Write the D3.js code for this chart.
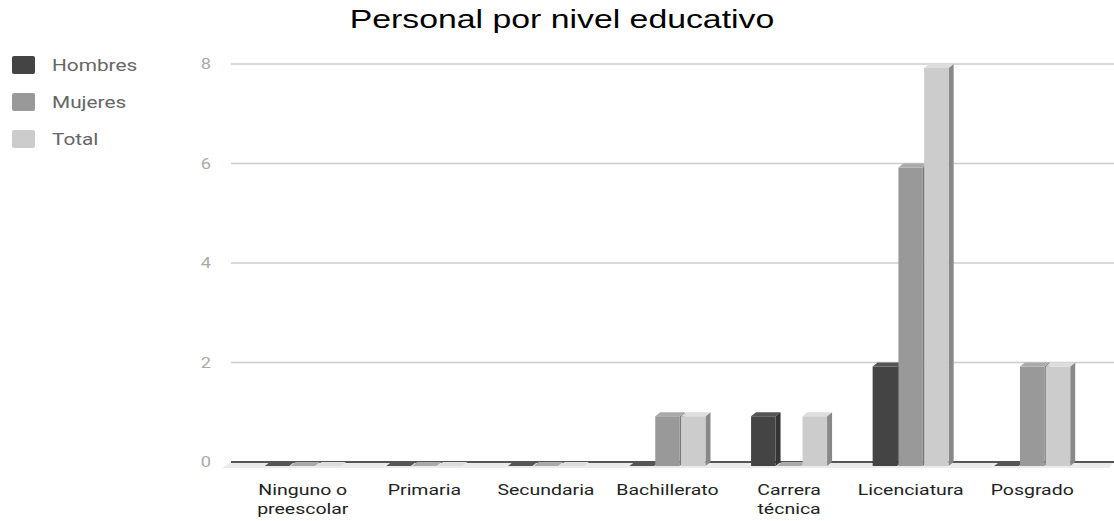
<!DOCTYPE html>
<html lang="es">
<head>
<meta charset="utf-8">
<title>Personal por nivel educativo</title>
<script src="https://d3js.org/d3.v7.min.js"></script>
<style>
  body { margin: 0; background: #fff; }
  svg { display: block; }
</style>
</head>
<body>
<script>
const width = 1114, height = 521;

// data
const categories = [["Ninguno o", "preescolar"], ["Primaria"], ["Secundaria"], ["Bachillerato"],
                    ["Carrera", "técnica"], ["Licenciatura"], ["Posgrado"]];
const seriesNames = ["Hombres", "Mujeres", "Total"];
const hombres = [0, 0, 0, 0, 1, 2, 0];
const mujeres = [0, 0, 0, 1, 0, 6, 2];
const total   = [0, 0, 0, 1, 1, 8, 2];
const yTicks = [0, 2, 4, 6, 8];

const seriesValues = [hombres, mujeres, total];
// front, top, side
const colors = [
  {front: "#444444", top: "#555555", side: "#333333"},
  {front: "#999999", top: "#aaaaaa", side: "#777777"},
  {front: "#cccccc", top: "#dddddd", side: "#888888"}
];

const dx = 5, dy = 4; // depth offset of the back plane
const sx = 1.3;       // the text in the picture is stretched sideways
const catKeys = categories.map(c => c.join(" "));

const x = d3.scaleBand().domain(catKeys).range([242, 1093]);
const xs = d3.scaleBand().domain(seriesNames).range([0, 76]).paddingInner(0.05);
const y = d3.scaleLinear().domain([0, 8]).range([462, 64]); // back plane

const svg = d3.select("body").append("svg")
  .attr("width", width).attr("height", height);

// title
svg.append("text")
  .attr("transform", `translate(562,28) scale(${sx},1)`)
  .attr("text-anchor", "middle")
  .attr("font-family", "Liberation Sans, Arial, sans-serif")
  .attr("font-size", 26)
  .attr("fill", "#000")
  .text("Personal por nivel educativo");

// legend
const legend = svg.append("g").selectAll("g")
  .data(seriesNames).join("g")
  .attr("transform", (d, i) => `translate(12, ${56 + i * 37})`);
legend.append("rect")
  .attr("width", 23).attr("height", 18).attr("rx", 2)
  .attr("fill", (d, i) => colors[i].front);
legend.append("text")
  .attr("transform", `translate(40,15) scale(${sx},1)`)
  .attr("font-family", "Roboto, sans-serif")
  .attr("font-size", 16)
  .attr("fill", "#666")
  .text(d => d);

// floor
const x0 = 231, x1 = 1114;
svg.append("path")
  .attr("d", `M${x0},${y(0)} L${x1},${y(0)} L${x1 - dx},${y(0) + dy + 2} L${x0 - dx - 4},${y(0) + dy + 2} Z`)
  .attr("fill", "#ebebeb");

// gridlines
svg.append("g").selectAll("line")
  .data(yTicks.filter(d => d > 0)).join("line")
  .attr("x1", x0).attr("x2", x1)
  .attr("y1", d => y(d)).attr("y2", d => y(d))
  .attr("stroke", "#cccccc").attr("stroke-width", 1.5);

// baseline
svg.append("line")
  .attr("x1", x0).attr("x2", x1)
  .attr("y1", y(0)).attr("y2", y(0))
  .attr("stroke", "#555").attr("stroke-width", 2);

// y tick labels
svg.append("g").selectAll("text")
  .data(yTicks).join("text")
  .attr("transform", d => `translate(211,${y(d) + 5}) scale(${sx},1)`)
  .attr("text-anchor", "end")
  .attr("font-family", "Roboto, sans-serif")
  .attr("font-size", 14)
  .attr("fill", "#aaaaaa")
  .text(d => d);

// bars
const bars = [];
catKeys.forEach((c, ci) => {
  seriesNames.forEach((s, si) => {
    bars.push({cat: c, series: s, si: si, value: seriesValues[si][ci]});
  });
});

const barG = svg.append("g");
bars.forEach(b => {
  const left = x(b.cat) + x.bandwidth() / 2 - 38 + xs(b.series);
  const w = xs.bandwidth();
  const yTop = y(b.value) + dy;   // front top
  const yBot = y(0) + dy;         // front bottom
  const c = colors[b.si];
  const g = barG.append("g");
  if (b.value > 0) {
    g.append("path")
      .attr("d", `M${left + w},${yTop} L${left + w + dx},${yTop - dy} L${left + w + dx},${yBot - dy} L${left + w},${yBot} Z`)
      .attr("fill", c.side);
    g.append("rect")
      .attr("x", left).attr("y", yTop)
      .attr("width", w).attr("height", yBot - yTop)
      .attr("fill", c.front);
  }
  g.append("path")
    .attr("d", `M${left},${yTop} L${left + dx},${yTop - dy} L${left + w + dx},${yTop - dy} L${left + w},${yTop} Z`)
    .attr("fill", c.top);
});

// x labels
const xl = svg.append("g").selectAll("text")
  .data(categories).join("text")
  .attr("transform", (d, i) => `translate(${x(catKeys[i]) + x.bandwidth() / 2},495) scale(${sx},1)`)
  .attr("text-anchor", "middle")
  .attr("font-family", "Roboto, sans-serif")
  .attr("font-size", 15)
  .attr("fill", "#222");
xl.selectAll("tspan")
  .data(d => d).join("tspan")
  .attr("x", 0)
  .attr("dy", (d, i) => i === 0 ? 0 : 19)
  .text(d => d);
</script>
</body>
</html>
